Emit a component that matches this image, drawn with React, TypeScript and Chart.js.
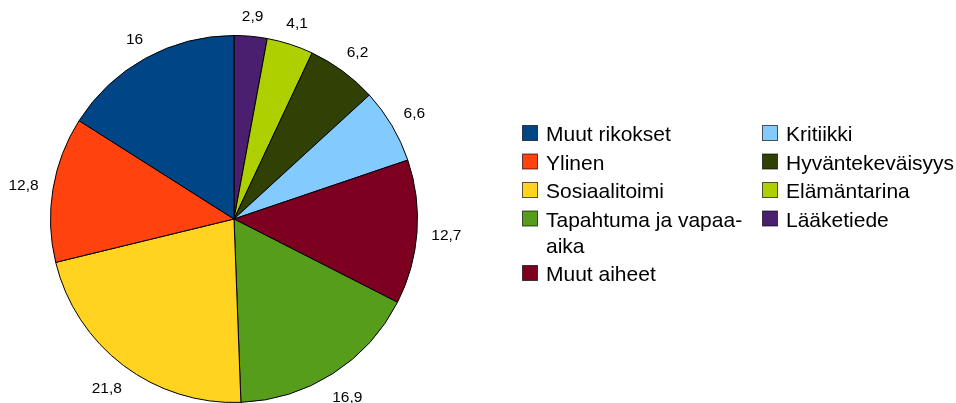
import { useEffect, useRef } from "react";
import { Chart, registerables } from "chart.js";

Chart.register(...registerables);

// Legend order (as in the reference)
const categories = [
  "Muut rikokset",
  "Ylinen",
  "Sosiaalitoimi",
  "Tapahtuma ja vapaa-aika",
  "Muut aiheet",
  "Kritiikki",
  "Hyväntekeväisyys",
  "Elämäntarina",
  "Lääketiede",
];
const values = [16, 12.8, 21.8, 16.9, 12.7, 6.6, 6.2, 4.1, 2.9];
const colors = [
  "#004586",
  "#ff420e",
  "#ffd320",
  "#579d1c",
  "#7e0021",
  "#83caff",
  "#314004",
  "#aecf00",
  "#4b1f6f",
];
const legendColumns = [
  [0, 1, 2, 3, 4],
  [5, 6, 7, 8],
];

const FONT = '"Liberation Sans", Arial, sans-serif';

const fmt = (v: number) => String(v).replace(".", ",");

const valueLabels = {
  id: "valueLabels",
  afterDatasetsDraw(chart: any) {
    const ctx = chart.ctx;
    const meta = chart.getDatasetMeta(0);
    const data = chart.data.datasets[0].data as number[];
    ctx.save();
    ctx.font = `15.5px ${FONT}`;
    ctx.fillStyle = "#000";
    ctx.textAlign = "center";
    ctx.textBaseline = "alphabetic";
    meta.data.forEach((arc: any, i: number) => {
      const { x, y, startAngle, endAngle, outerRadius } = arc.getProps(
        ["x", "y", "startAngle", "endAngle", "outerRadius"],
        true
      );
      const mid = (startAngle + endAngle) / 2;
      const txt = fmt(data[i]);
      const w = ctx.measureText(txt).width;
      const h = 11;
      const c = Math.cos(mid);
      const s = Math.sin(mid);
      const d = outerRadius + 14 + Math.abs(c) * w / 2 + Math.abs(s) * h / 2;
      const cx = x + c * d;
      const cy = y + s * d;
      ctx.fillText(txt, cx, cy + h / 2);
    });
    ctx.restore();
  },
};

function wrap(ctx: CanvasRenderingContext2D, text: string, maxW: number) {
  const tokens = text.split(/(?<=[\s-])/);
  const lines: string[] = [];
  let cur = "";
  for (const t of tokens) {
    const test = cur + t;
    if (cur && ctx.measureText(test.trimEnd()).width > maxW) {
      lines.push(cur.trimEnd());
      cur = t;
    } else {
      cur = test;
    }
  }
  if (cur) lines.push(cur.trimEnd());
  return lines;
}

const customLegend = {
  id: "customLegend",
  afterDraw(chart: any) {
    const ctx = chart.ctx as CanvasRenderingContext2D;
    ctx.save();
    ctx.font = `21px ${FONT}`;
    ctx.textAlign = "left";
    ctx.textBaseline = "alphabetic";
    const colX = [522, 762];
    const lineH = 26;
    legendColumns.forEach((col, ci) => {
      let top = 125;
      col.forEach((idx) => {
        const sx = colX[ci];
        ctx.fillStyle = colors[idx];
        ctx.fillRect(sx + 0.5, top + 0.5, 15, 15);
        ctx.strokeStyle = "rgba(0,0,0,0.65)";
        ctx.lineWidth = 1;
        ctx.strokeRect(sx + 0.5, top + 0.5, 15, 15);
        const lines = wrap(ctx, categories[idx], 210);
        ctx.fillStyle = "#000";
        lines.forEach((ln, li) => {
          ctx.fillText(ln, sx + 24, top + 16 + li * lineH);
        });
        top += lines.length * lineH + 2.5;
      });
    });
    ctx.restore();
  },
};

export default function App() {
  const ref = useRef<HTMLCanvasElement | null>(null);
  useEffect(() => {
    if (!ref.current) return;
    // Pie is drawn clockwise from the top; reference runs counter-clockwise
    const order = categories.map((_, i) => i).reverse();
    const chart = new Chart(ref.current, {
      type: "pie",
      data: {
        labels: order.map((i) => categories[i]),
        datasets: [
          {
            data: order.map((i) => values[i]),
            backgroundColor: order.map((i) => colors[i]),
            borderColor: "#000",
            borderWidth: 1,
          },
        ],
      },
      options: {
        animation: false,
        responsive: false,
        rotation: 0,
        layout: { padding: { left: 50, top: 35, right: 538, bottom: 0 } },
        plugins: {
          legend: { display: false },
          tooltip: { enabled: false },
        },
      },
      plugins: [valueLabels, customLegend],
    });
    return () => chart.destroy();
  }, []);
  return (
    <div style={{ position: "fixed", left: 0, top: 0, width: 956, height: 403, background: "#fff" }}>
      <canvas ref={ref} width={956} height={403} style={{ display: "block" }} />
    </div>
  );
}
